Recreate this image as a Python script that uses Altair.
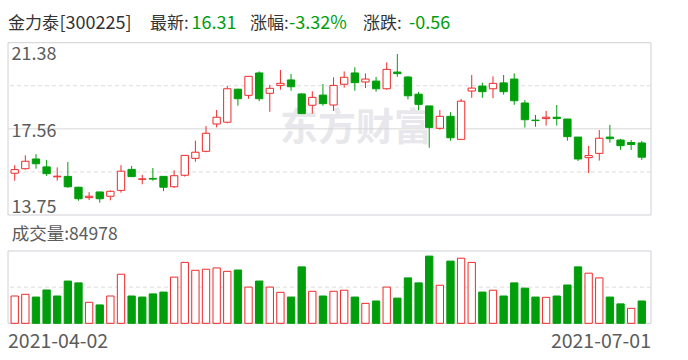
import altair as alt
import pandas as pd

# ---------------- data ----------------
dates = [
    "2021-04-02", "2021-04-06", "2021-04-07", "2021-04-08", "2021-04-09",
    "2021-04-12", "2021-04-13", "2021-04-14", "2021-04-15", "2021-04-16",
    "2021-04-19", "2021-04-20", "2021-04-21", "2021-04-22", "2021-04-23",
    "2021-04-26", "2021-04-27", "2021-04-28", "2021-04-29", "2021-04-30",
    "2021-05-06", "2021-05-07", "2021-05-10", "2021-05-11", "2021-05-12",
    "2021-05-13", "2021-05-14", "2021-05-17", "2021-05-18", "2021-05-19",
    "2021-05-20", "2021-05-21", "2021-05-24", "2021-05-25", "2021-05-26",
    "2021-05-27", "2021-05-28", "2021-05-31", "2021-06-01", "2021-06-02",
    "2021-06-03", "2021-06-04", "2021-06-07", "2021-06-08", "2021-06-09",
    "2021-06-10", "2021-06-11", "2021-06-15", "2021-06-16", "2021-06-17",
    "2021-06-18", "2021-06-21", "2021-06-22", "2021-06-23", "2021-06-24",
    "2021-06-25", "2021-06-28", "2021-06-29", "2021-06-30", "2021-07-01",
]
opens = [
    15.60, 15.80, 16.23, 15.88, 15.44, 15.46, 14.98, 14.52, 14.77, 14.58,
    14.84, 15.77, 15.33, 15.37, 15.46, 15.00, 15.51, 16.26, 16.57, 17.78,
    17.86, 19.32, 19.05, 20.04, 19.14, 19.49, 19.73, 19.11, 18.61, 19.06,
    18.62, 19.54, 20.04, 19.64, 19.68, 19.34, 20.08, 19.86, 19.10, 18.58,
    17.59, 18.12, 17.10, 19.24, 19.46, 19.34, 19.60, 19.77, 18.71, 17.95,
    18.02, 18.08, 18.00, 17.20, 16.29, 16.48, 17.20, 17.07, 16.96, 16.94,
]
highs = [
    15.96, 16.39, 16.45, 16.19, 15.86, 16.10, 15.00, 14.76, 14.78, 14.84,
    15.96, 15.92, 15.53, 15.83, 15.47, 15.73, 16.39, 17.04, 17.69, 18.40,
    19.46, 19.34, 19.90, 20.11, 19.51, 20.17, 19.99, 19.14, 19.23, 19.55,
    19.85, 20.11, 20.29, 20.02, 19.87, 20.51, 20.88, 19.91, 19.20, 18.58,
    18.40, 18.30, 18.89, 19.95, 19.61, 19.89, 19.95, 20.02, 18.84, 18.18,
    18.36, 18.62, 18.00, 17.20, 16.81, 17.51, 17.74, 17.12, 17.07, 17.03,
]
lows = [
    15.27, 15.76, 15.80, 15.48, 15.27, 14.95, 14.38, 14.41, 14.30, 14.40,
    14.74, 15.43, 15.11, 15.27, 14.81, 14.95, 15.45, 16.11, 16.53, 17.63,
    17.81, 18.59, 18.90, 18.79, 18.32, 19.30, 19.25, 18.24, 18.24, 18.59,
    18.36, 19.39, 19.25, 19.37, 19.21, 19.30, 19.87, 18.87, 18.39, 16.73,
    17.53, 17.04, 17.10, 18.94, 18.94, 18.92, 19.08, 18.63, 17.62, 17.66,
    17.71, 17.71, 17.04, 16.14, 15.61, 16.16, 16.95, 16.64, 16.63, 16.19,
]
closes = [
    15.76, 16.13, 16.02, 15.58, 15.47, 15.00, 14.47, 14.58, 14.47, 14.80,
    15.69, 15.45, 15.35, 15.34, 14.98, 15.49, 16.39, 16.53, 17.37, 18.08,
    19.34, 18.90, 19.89, 18.90, 19.36, 19.58, 19.43, 18.24, 18.96, 18.68,
    19.49, 19.85, 19.61, 19.77, 19.34, 20.20, 20.01, 19.03, 18.65, 17.63,
    18.12, 17.17, 18.79, 19.37, 19.21, 19.58, 19.21, 18.81, 17.97, 17.93,
    18.08, 18.02, 17.22, 16.23, 16.38, 17.15, 17.13, 16.82, 16.87, 16.31,
]
volumes = [
    104000, 110500, 100000, 127000, 104000, 161000, 154000, 80000, 70000, 104000,
    187000, 104000, 100000, 112000, 119000, 176000, 232000, 202000, 206000, 211000,
    198000, 203000, 138000, 161000, 138000, 118000, 100000, 215000, 122000, 104000,
    122000, 126000, 100000, 76000, 85000, 138000, 96000, 173000, 154000, 256000,
    145000, 237000, 248000, 232000, 119000, 126000, 104000, 154000, 134000, 100000,
    99000, 104000, 146000, 215000, 191000, 173000, 100000, 74000, 57000, 84978,
]
price_ticks = [21.38, 17.56, 13.75]
price_grid = [19.4725, 17.565, 15.6575]
vol_max = 275500

UP = "#ee2a2a"
DOWN = "#009e0b"
FONT = "Noto Sans CJK SC"
W, H = 643, 282

rows = []
for i, d in enumerate(dates):
    up = closes[i] >= opens[i]
    vup = up if i == 0 else closes[i] >= closes[i - 1]
    rows.append({
        "date": d, "open": opens[i], "high": highs[i], "low": lows[i],
        "close": closes[i], "volume": volumes[i],
        "dir": "up" if up else "down", "vdir": "up" if vup else "down",
    })
df = pd.DataFrame(rows)

price_scale = alt.Scale(domain=[13.75, 21.38], range=[173, 0.7], nice=False, zero=False)
vol_scale = alt.Scale(domain=[0, vol_max], range=[281.3, 209], nice=False)
x_scale = alt.Scale(type="band", domain=dates, range=[1.4, 639.1],
                    paddingInner=0.31, paddingOuter=0.155)
X = alt.X("date:N", scale=x_scale, axis=None)

base = alt.Chart(df)

# frames
frame_price = alt.Chart(pd.DataFrame({"a": [21.38], "b": [13.75]})).mark_rect(
    fill="white", stroke="#cfd0d6", strokeWidth=1
).encode(x=alt.value(0), x2=alt.value(W), y=alt.Y("a:Q", scale=price_scale, axis=None), y2="b:Q")
frame_vol = alt.Chart(pd.DataFrame({"a": [vol_max], "b": [0]})).mark_rect(
    fill="white", stroke="#cfd0d6", strokeWidth=1
).encode(x=alt.value(0), x2=alt.value(W), y=alt.Y("a:Q", scale=vol_scale, axis=None), y2="b:Q")

grid_dashed = alt.Chart(pd.DataFrame({"v": [price_grid[0], price_grid[2]]})).mark_rule(
    stroke="#dcdcdc", strokeWidth=1, strokeDash=[4, 3]
).encode(y=alt.Y("v:Q", scale=price_scale, axis=None))
grid_solid = alt.Chart(pd.DataFrame({"v": [price_grid[1]]})).mark_rule(
    stroke="#d6d6d6", strokeWidth=1
).encode(y=alt.Y("v:Q", scale=price_scale, axis=None))
grid_vol = alt.Chart(pd.DataFrame({"v": [vol_max / 2]})).mark_rule(
    stroke="#dcdcdc", strokeWidth=1, strokeDash=[4, 3]
).encode(y=alt.Y("v:Q", scale=vol_scale, axis=None))

def label(text, x, y, color, size, align="left", baseline="alphabetic", weight="normal"):
    return alt.Chart(pd.DataFrame({"t": [text]})).mark_text(
        align=align, baseline=baseline, fontSize=size, font=FONT, color=color, fontWeight=weight
    ).encode(text="t:N", x=alt.value(x), y=alt.value(y))

watermark = label("东方财富", 272, 87, "#e8e8ec", 38, baseline="middle", weight="bold")

cond_stroke = alt.condition(alt.datum.dir == "up", alt.value(UP), alt.value(DOWN))
cond_fill = alt.condition(alt.datum.dir == "up", alt.value("#ffffff"), alt.value(DOWN))
vcond_stroke = alt.condition(alt.datum.vdir == "up", alt.value(UP), alt.value(DOWN))
vcond_fill = alt.condition(alt.datum.vdir == "up", alt.value("#ffffff"), alt.value(DOWN))

wicks = base.mark_rule(strokeWidth=1).encode(
    x=X, y=alt.Y("high:Q", scale=price_scale, axis=None), y2="low:Q", stroke=cond_stroke
)
bodies = base.mark_bar(strokeWidth=1).encode(
    x=X, y=alt.Y("open:Q", scale=price_scale, axis=None), y2="close:Q",
    fill=cond_fill, stroke=cond_stroke
)
vols = base.mark_bar(strokeWidth=1).encode(
    x=X, y=alt.Y("volume:Q", scale=vol_scale, axis=None),
    fill=vcond_fill, stroke=vcond_stroke
)

tick_labels = [
    label(f"{price_ticks[0]:.2f}", 3.5, 18, "#5c5c5c", 18),
    label(f"{price_ticks[1]:.2f}", 3.5, 95.3, "#5c5c5c", 18),
    label(f"{price_ticks[2]:.2f}", 3.5, 171.3, "#5c5c5c", 18),
]

TITLE_C = "#333333"
TY = -13.3
title = [
    label("金力泰", 0, TY, TITLE_C, 17),
    label("[300225]", 51.5, TY, TITLE_C, 18),
    label("最新:", 142, TY, TITLE_C, 17),
    label(f"{closes[-1]:.2f}", 183.5, TY, DOWN, 18),
    label("涨幅:", 242, TY, TITLE_C, 17),
    label("-3.32%", 281, TY, DOWN, 18),
    label("涨跌:", 355, TY, TITLE_C, 17),
    label("-0.56", 401, TY, DOWN, 18),
]
vol_title = label(f"成交量:{volumes[-1]}", 3.7, 198, "#5c5c5c", 17.5)
date_labels = [
    label(dates[0], 0, 306.3, "#5c5c5c", 19.5),
    label(dates[-1], W, 306.3, "#5c5c5c", 19.5, align="right"),
]

chart = alt.layer(
    frame_price, frame_vol, watermark, grid_dashed, grid_solid, grid_vol,
    wicks, bodies, vols, *tick_labels, *title, vol_title, *date_labels,
    data=df,
).resolve_scale(y="independent").properties(
    width=W, height=H,
    autosize=alt.AutoSizeParams(type="none"),
    padding={"left": 8, "top": 42, "right": 37, "bottom": 36},
    background="white",
).configure_view(strokeWidth=0)

chart.save("out.html", embed_options={"renderer": "svg", "actions": False})
